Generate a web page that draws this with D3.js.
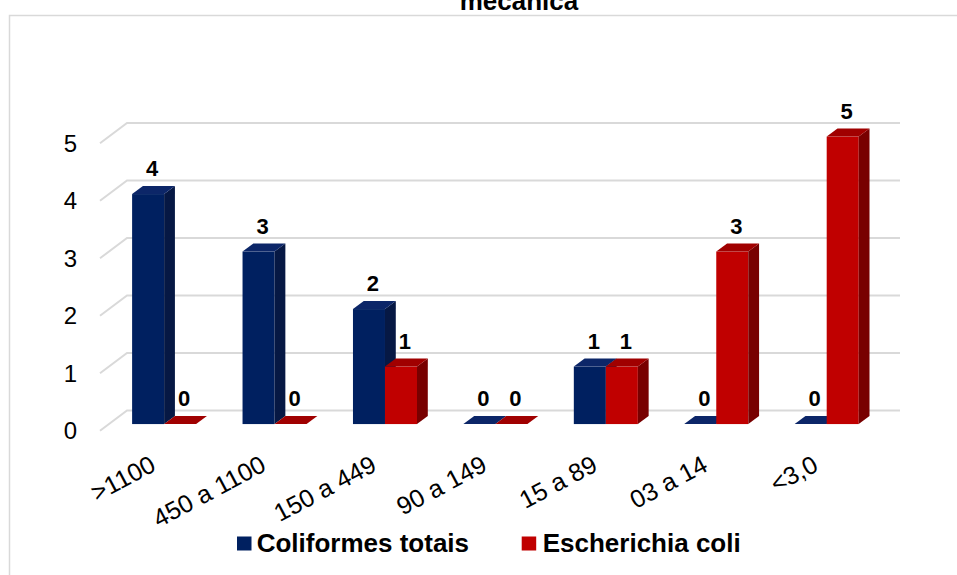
<!DOCTYPE html>
<html>
<head>
<meta charset="utf-8">
<script src="https://cdn.jsdelivr.net/npm/d3@7"></script>
<style>
  html, body { margin: 0; padding: 0; background: #fff; }
  svg { display: block; font-family: "Liberation Sans", Arial, sans-serif; }
</style>
</head>
<body>
<svg id="chart" width="957" height="575"></svg>
<script>
// Faixas de NMP por amostra
const categories = [">1100", "450 a 1100", "150 a 449", "90 a 149", "15 a 89", "03 a 14", "<3,0"];
const coliformesTotais = [4, 3, 2, 0, 1, 0, 0];
const escherichiaColi = [0, 0, 1, 0, 1, 3, 5];
const seriesNames = ["Coliformes totais", "Escherichia coli"];
const yTicks = [0, 1, 2, 3, 4, 5];

const svg = d3.select("#chart");
const W = 957, H = 575;

// Chart frame
svg.append("path")
  .attr("d", `M9.5,${H} V15.5 H${W}`)
  .attr("fill", "none").attr("stroke", "#d9d9d9").attr("stroke-width", 1.5);

// Title (second line)
svg.append("text")
  .attr("x", 519).attr("y", 10)
  .attr("text-anchor", "middle")
  .attr("font-weight", "bold").attr("font-size", 26)
  .text("mecânica");

// Front plane scales
const x = d3.scaleBand().domain(categories).range([100, 873]).paddingInner(0).paddingOuter(0);
const y = d3.scaleLinear().domain([0, 5]).range([430.8, 143.3]);

// Depth projection: full floor depth, and bar placement within it
const depthDX = 27, depthDY = -20.4;
const barZ0 = 0.33, barZ1 = 0.73;

const groupPad = 23.2;
const barW = (x.bandwidth() - 2 * groupPad) / 2;

// Back wall gridlines + side wall diagonals
const grid = svg.append("g").attr("stroke", "#d9d9d9").attr("stroke-width", 2).attr("fill", "none");
yTicks.forEach(t => {
  const yf = y(t);
  grid.append("path")
    .attr("d", `M${x.range()[0]},${yf} L${x.range()[0] + depthDX},${yf + depthDY} L${x.range()[1] + depthDX},${yf + depthDY}`);
});

// Y axis labels
svg.append("g").selectAll("text").data(yTicks).join("text")
  .attr("x", 77).attr("y", d => y(d))
  .attr("dy", "0.35em")
  .attr("text-anchor", "end")
  .attr("font-size", 24)
  .attr("fill", "#000")
  .text(d => d);

const palette = [
  { front: "#002060", top: "#0c2668", side: "#061844" },
  { front: "#c00000", top: "#a00000", side: "#780000" }
];

const bars = svg.append("g");
const labels = svg.append("g");
const series = [coliformesTotais, escherichiaColi];

categories.forEach((cat, i) => {
  series.forEach((vals, s) => {
    const v = vals[i];
    const c = palette[s];
    const fx0 = x(cat) + groupPad + s * barW + depthDX * barZ0;
    const fx1 = fx0 + barW;
    const fyTop = y(v) + depthDY * barZ0;
    const fyBase = y(0) + depthDY * barZ0;
    const ddx = depthDX * (barZ1 - barZ0);
    const ddy = depthDY * (barZ1 - barZ0);

    if (v > 0) {
      // front face
      bars.append("rect")
        .attr("x", fx0).attr("y", fyTop)
        .attr("width", barW).attr("height", fyBase - fyTop)
        .attr("fill", c.front);
      // side face
      bars.append("path")
        .attr("d", `M${fx1},${fyTop} L${fx1 + ddx},${fyTop + ddy} L${fx1 + ddx},${fyBase + ddy} L${fx1},${fyBase} Z`)
        .attr("fill", c.side);
    }
    // top face
    bars.append("path")
      .attr("d", `M${fx0},${fyTop} L${fx1},${fyTop} L${fx1 + ddx},${fyTop + ddy} L${fx0 + ddx},${fyTop + ddy} Z`)
      .attr("fill", c.top);

    // value label
    labels.append("text")
      .attr("x", (fx0 + fx1) / 2 + 4)
      .attr("y", fyTop - 18)
      .attr("text-anchor", "middle")
      .attr("font-size", 22).attr("font-weight", "bold")
      .attr("fill", "#000")
      .text(v);
  });
});

// Category labels, rotated
svg.append("g").selectAll("text").data(categories).join("text")
  .attr("transform", d => `translate(${x(d) + x.bandwidth() / 2 + 2},470) rotate(-28)`)
  .attr("text-anchor", "end")
  .attr("font-size", 25)
  .attr("fill", "#000")
  .text(d => d);

// Legend
const legendItems = [
  { name: seriesNames[0], color: palette[0].front, sx: 237, tx: 256.7 },
  { name: seriesNames[1], color: palette[1].front, sx: 521.7, tx: 542.7 }
];
const legend = svg.append("g");
legendItems.forEach(it => {
  legend.append("rect")
    .attr("x", it.sx).attr("y", 536.5)
    .attr("width", 14.5).attr("height", 14)
    .attr("fill", it.color);
  legend.append("text")
    .attr("x", it.tx).attr("y", 551.7)
    .attr("font-size", 26).attr("font-weight", "bold")
    .attr("fill", "#000")
    .text(it.name);
});
</script>
</body>
</html>
